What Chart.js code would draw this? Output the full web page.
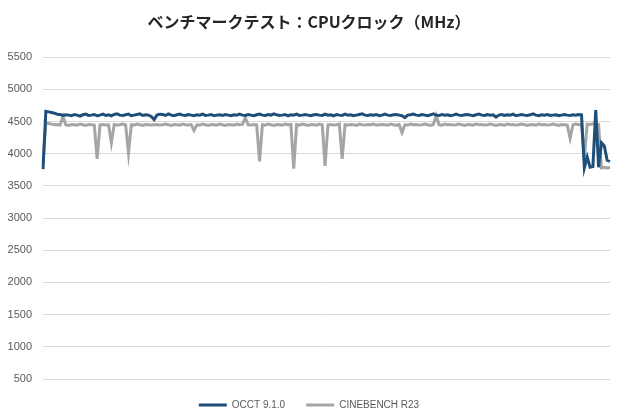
<!DOCTYPE html>
<html>
<head>
<meta charset="utf-8">
<script src="https://cdn.jsdelivr.net/npm/chart.js@4"></script>
<style>
  html, body { margin: 0; padding: 0; background: #fff; }
  #wrap { width: 620px; height: 420px; }
</style>
</head>
<body>
<div id="wrap"><canvas id="myChart" width="620" height="420"></canvas></div>
<script>
const chartTitle = 'ベンチマークテスト：CPUクロック（MHz）';
const seriesNames = ['OCCT 9.1.0', 'CINEBENCH R23'];
const yMin = 500, yMax = 5500, yStep = 500;

// OCCT 9.1.0 (MHz), sampled left to right
const occt = [
  3760, 4660, 4650, 4640, 4630, 4615, 4610, 4595, 4605, 4600, 4590, 4610, 4600, 4585, 4605, 4615, 4595, 4600, 4610, 4590,
  4600, 4615, 4595, 4605, 4590, 4610, 4620, 4600, 4595, 4605, 4615, 4590, 4600, 4610, 4620, 4595, 4605, 4600, 4580, 4530,
  4600, 4615, 4610, 4595, 4620, 4600, 4590, 4605, 4615, 4600, 4595, 4610, 4600, 4590, 4605, 4600, 4615, 4595, 4600, 4610,
  4590, 4600, 4605, 4595, 4610, 4600, 4590, 4605, 4600, 4615, 4600, 4595, 4610, 4600, 4590, 4605, 4615, 4600, 4595, 4610,
  4600, 4620, 4605, 4595, 4600, 4610, 4590, 4605, 4600, 4615, 4595, 4600, 4610, 4600, 4590, 4605, 4610, 4600, 4595, 4615,
  4600, 4605, 4590, 4610, 4600, 4595, 4615, 4600, 4605, 4590, 4600, 4610, 4620, 4600, 4595, 4605, 4600, 4610, 4590, 4600,
  4615, 4600, 4595, 4605, 4610, 4600, 4590, 4560, 4600, 4605, 4615, 4600, 4595, 4610, 4600, 4590, 4605, 4620, 4600, 4595,
  4610, 4600, 4605, 4590, 4600, 4615, 4600, 4595, 4605, 4610, 4600, 4590, 4605, 4615, 4600, 4595, 4610, 4600, 4605, 4570,
  4600, 4610, 4595, 4605, 4600, 4615, 4590, 4600, 4610, 4600, 4595, 4605, 4620, 4600, 4590, 4605, 4600, 4610, 4595, 4600,
  4605, 4590, 4600, 4610, 4600, 4595, 4605, 4600, 4610, 4605, 3780, 3950, 3790, 3800, 4680, 3790, 4170, 4120, 3900, 3880
];

// CINEBENCH R23 (MHz)
const cinebench = [
  3850, 4480, 4470, 4460, 4450, 4455, 4445, 4580, 4450, 4440, 4455, 4450, 4445, 4460, 4450, 4440, 4455, 4450, 4445, 3920,
  4450, 4455, 4445, 4450, 4170, 4455, 4445, 4450, 4460, 4450, 4010, 4450, 4445, 4460, 4450, 4440, 4455, 4450, 4445, 4450,
  4455, 4445, 4450, 4460, 4450, 4440, 4455, 4450, 4445, 4460, 4450, 4445, 4455, 4360, 4450, 4445, 4460, 4450, 4440, 4455,
  4450, 4445, 4460, 4450, 4440, 4455, 4450, 4445, 4460, 4450, 4455, 4560, 4450, 4445, 4455, 4450, 3880, 4450, 4445, 4460,
  4450, 4440, 4455, 4450, 4445, 4460, 4450, 4455, 3770, 4450, 4445, 4460, 4450, 4440, 4455, 4450, 4445, 4460, 4450, 3810,
  4450, 4455, 4445, 4450, 4460, 3920, 4450, 4445, 4455, 4450, 4440, 4460, 4450, 4445, 4455, 4450, 4460, 4445, 4450, 4455,
  4450, 4445, 4460, 4450, 4440, 4455, 4330, 4450, 4445, 4460, 4450, 4455, 4445, 4450, 4460, 4450, 4440, 4455, 4590, 4450,
  4445, 4460, 4450, 4455, 4445, 4450, 4460, 4450, 4440, 4455, 4450, 4445, 4460, 4450, 4455, 4445, 4450, 4460, 4450, 4440,
  4455, 4450, 4445, 4460, 4450, 4455, 4445, 4450, 4460, 4450, 4440, 4455, 4450, 4445, 4460, 4450, 4455, 4445, 4450, 4460,
  4450, 4440, 4455, 4450, 4445, 4240, 4450, 4460, 4450, 4455, 3950, 4460, 4455, 4465, 4460, 4455, 3780, 3790, 3780, 3785
];

const sampleIndex = occt.map((v, i) => i + 1);

const colors = ['#1F4E79', '#A5A5A5'];
const tickFont = { family: "'Liberation Sans', Arial, sans-serif", size: 11 };
const legendFont = { family: "'Liberation Sans', Arial, sans-serif", size: 10 };

const ctx = document.getElementById('myChart').getContext('2d');
const myChart = new Chart(ctx, {
  type: 'line',
  data: {
    labels: sampleIndex,
    datasets: [
      {
        label: seriesNames[0],
        data: occt,
        borderColor: colors[0],
        backgroundColor: colors[0],
        borderWidth: 3,
        pointRadius: 0,
        tension: 0
      },
      {
        label: seriesNames[1],
        data: cinebench,
        borderColor: colors[1],
        backgroundColor: colors[1],
        borderWidth: 3,
        pointRadius: 0,
        tension: 0
      }
    ]
  },
  options: {
    responsive: false,
    animation: false,
    layout: { padding: { left: 8, right: 10, top: 12, bottom: 0 } },
    plugins: {
      title: {
        display: true,
        text: chartTitle,
        color: '#262626',
        font: { family: "'Noto Sans CJK JP', sans-serif", size: 16, weight: 'bold' },
        padding: { top: 0, bottom: 26 }
      },
      legend: {
        position: 'bottom',
        labels: {
          color: '#595959',
          font: legendFont,
          boxWidth: 28,
          boxHeight: 3,
          padding: 21,
          generateLabels: function(chart) {
            return chart.data.datasets.map((ds, i) => ({
              text: ds.label,
              fillStyle: ds.borderColor,
              strokeStyle: ds.borderColor,
              lineWidth: 0,
              fontColor: '#595959',
              hidden: false,
              datasetIndex: i
            }));
          }
        }
      },
      tooltip: { enabled: false }
    },
    scales: {
      x: {
        display: false
      },
      y: {
        min: yMin,
        max: yMax,
        border: { display: false },
        grid: { color: '#D9D9D9', drawTicks: false },
        ticks: {
          stepSize: yStep,
          color: '#595959',
          font: tickFont,
          padding: 11,
          callback: function(value) { return String(value); }
        },
        afterFit: function(scale) { scale.width = 35; }
      }
    }
  }
});
</script>
</body>
</html>
